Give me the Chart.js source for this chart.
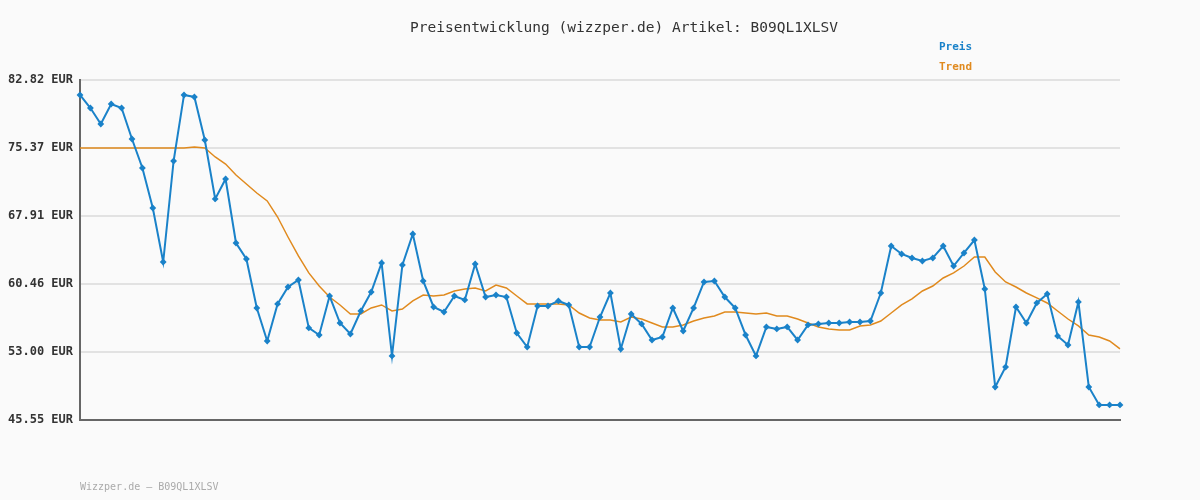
<!DOCTYPE html>
<html>
<head>
<meta charset="utf-8">
<script src="https://cdn.jsdelivr.net/npm/chart.js@4/dist/chart.umd.min.js"></script>
<style>
  body { margin: 0; background: #fafafa; }
  #wrap { width: 1200px; height: 500px; position: relative; }
</style>
</head>
<body>
<div id="wrap"><canvas id="priceChart"></canvas></div>
<script>
const preis = [81.18,79.75,78.00,80.19,79.75,76.35,73.17,68.79,62.87,73.94,
  81.18,80.96,76.24,69.78,71.97,64.95,63.20,57.83,54.21,58.27,
  60.13,60.90,55.64,54.87,59.14,56.18,54.98,57.50,59.58,62.76,
  52.57,62.54,65.94,60.79,57.94,57.39,59.14,58.71,62.65,59.03,
  59.25,59.03,55.09,53.55,58.05,58.05,58.60,58.16,53.55,53.55,
  56.84,59.47,53.33,57.17,56.08,54.32,54.65,57.83,55.31,57.83,
  60.68,60.79,59.03,57.83,54.87,52.57,55.75,55.53,55.75,54.32,
  55.97,56.08,56.18,56.18,56.29,56.29,56.40,59.47,64.62,63.75,
  63.31,62.98,63.31,64.62,62.43,63.86,65.28,59.91,49.17,51.36,
  57.94,56.18,58.38,59.36,54.76,53.77,58.49,49.17,47.20,47.20,47.20];

const trend = [75.37,75.37,75.37,75.37,75.37,75.37,75.37,75.37,75.37,75.37,
  75.37,75.48,75.37,74.38,73.61,72.41,71.42,70.43,69.56,67.80,
  65.61,63.53,61.67,60.24,59.03,58.16,57.17,57.17,57.83,58.16,
  57.50,57.72,58.60,59.25,59.14,59.25,59.69,59.91,60.02,59.69,
  60.35,60.02,59.14,58.27,58.27,58.27,58.27,58.16,57.28,56.73,
  56.51,56.51,56.29,56.84,56.62,56.18,55.75,55.75,55.97,56.40,
  56.73,56.95,57.39,57.39,57.28,57.17,57.28,56.95,56.95,56.62,
  56.18,55.75,55.53,55.42,55.42,55.86,55.97,56.40,57.28,58.16,
  58.82,59.69,60.24,61.12,61.67,62.43,63.42,63.42,61.78,60.68,
  60.13,59.47,58.93,58.38,57.50,56.62,55.86,54.87,54.65,54.21,53.34];

const yTicks = [45.55, 53.00, 60.46, 67.91, 75.37, 82.82];
const labels = preis.map((_, i) => i + 1);

const mono = "'DejaVu Sans Mono', monospace";

// title, legend and footer drawn straight on the canvas
const textPlugin = {
  id: "texts",
  afterDraw(chart) {
    const ctx = chart.ctx;
    ctx.save();
    ctx.textBaseline = "middle";
    ctx.font = "14.5px " + mono;
    ctx.fillStyle = "#333";
    ctx.textAlign = "center";
    ctx.fillText("Preisentwicklung (wizzper.de) Artikel: B09QL1XLSV", 624, 28);
    ctx.textAlign = "left";
    ctx.font = "bold 11px " + mono;
    ctx.fillStyle = "#1a82c9";
    ctx.fillText("Preis", 939, 47);
    ctx.fillStyle = "#e08a1e";
    ctx.fillText("Trend", 939, 67);
    ctx.font = "10px " + mono;
    ctx.fillStyle = "#aaa";
    ctx.fillText("Wizzper.de – B09QL1XLSV", 80, 487);
    ctx.restore();
  }
};

new Chart(document.getElementById("priceChart"), {
  type: "line",
  data: {
    labels,
    datasets: [{
      label: "Preis",
      data: preis,
      borderColor: "#1a82c9",
      backgroundColor: "#1a82c9",
      borderWidth: 2,
      pointStyle: "rectRot",
      pointRadius: 2,
      tension: 0
    }, {
      label: "Trend",
      data: trend,
      borderColor: "#e08a1e",
      borderWidth: 1.5,
      pointRadius: 0,
      tension: 0
    }]
  },
  options: {
    responsive: true,
    maintainAspectRatio: false,
    animation: false,
    layout: { padding: { top: 80, right: 80, bottom: 72, left: 0 } },
    plugins: { legend: { display: false }, tooltip: { enabled: false } },
    scales: {
      x: {
        offset: false,
        ticks: { display: false },
        grid: { display: false },
        border: { color: "#666", width: 2 }
      },
      y: {
        min: 45.55,
        max: 82.82,
        afterBuildTicks(axis) { axis.ticks = yTicks.map(v => ({ value: v })); },
        afterFit(axis) { axis.width = 80; },
        ticks: {
          font: { family: mono, size: 12, weight: "bold" },
          color: "#333",
          padding: 7,
          callback: v => v.toFixed(2) + " EUR"
        },
        grid: { color: "#e2e2e2", lineWidth: 2, drawTicks: false },
        border: { color: "#666", width: 2 }
      }
    }
  },
  plugins: [textPlugin]
});
</script>
</body>
</html>
